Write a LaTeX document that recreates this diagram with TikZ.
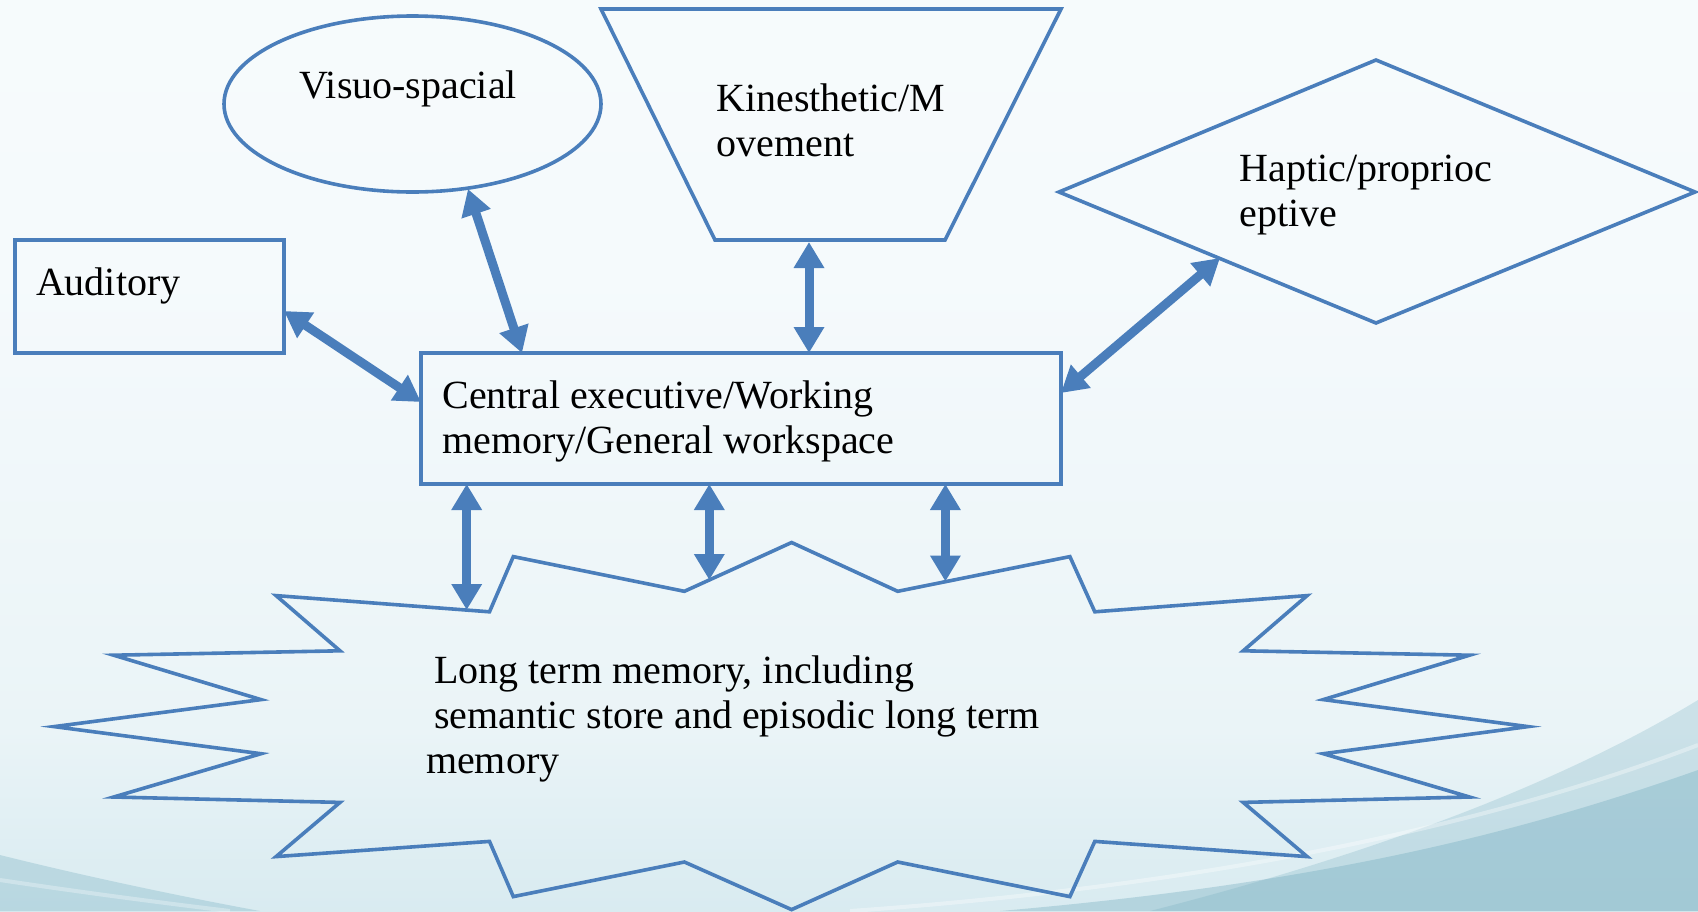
\documentclass[tikz,border=0pt]{standalone}
\usepackage{fontspec}
\setmainfont{Liberation Serif}
\usetikzlibrary{arrows.meta,calc,shapes.geometric}
\definecolor{shp}{HTML}{4A7EBB}
\definecolor{bg0}{HTML}{98C4D1}
\definecolor{bg1}{HTML}{B6D8E1}
\definecolor{bg2}{HTML}{D5E9EF}
\definecolor{bg3}{HTML}{EAF4F7}
\definecolor{bg4}{HTML}{F5FAFC}
\definecolor{bg5}{HTML}{F8FCFD}
\definecolor{swoosh}{HTML}{6FAABD}
\pgfdeclareverticalshading{bgshade}{100bp}{color(0bp)=(bg0); color(12bp)=(bg1); color(23bp)=(bg2); color(35bp)=(bg3); color(60bp)=(bg4); color(100bp)=(bg5)}
\begin{document}
\begin{tikzpicture}[x=0.5pt,y=-0.5pt,
  shapeline/.style={draw=shp, line width=1.8pt, line join=miter},
  lbl/.style={anchor=north west, inner sep=0pt, align=left, font=\fontsize{20}{22.5}\selectfont, text=black},
  dblarrow/.style={draw=shp, line width=4.5pt, {Triangle[width=14.5pt,length=13pt]}-{Triangle[width=14.5pt,length=13pt]}},
]
\useasboundingbox (0,0) rectangle (1698,911);
% background
\fill[shading=bgshade] (0,0) rectangle (1698,911);
\begin{scope}
  \clip (0,0) rectangle (1698,911);
  \fill[swoosh, opacity=0.35] (1698,770) .. controls (1500,840) and (1300,885) .. (1000,911) -- (1698,911) -- cycle;
  \fill[swoosh, opacity=0.25] (1698,700) .. controls (1550,790) and (1350,860) .. (1150,911) -- (1698,911) -- cycle;
  \draw[white, opacity=0.35, line width=2pt] (1698,745) .. controls (1450,840) and (1150,890) .. (850,911);
  \fill[swoosh, opacity=0.3] (0,855) .. controls (100,880) and (200,900) .. (260,911) -- (0,911) -- cycle;
  \draw[white, opacity=0.3, line width=2pt] (0,880) .. controls (100,895) and (180,905) .. (230,911);
\end{scope}

% shapes
\node[shapeline, ellipse, minimum width=188.5pt, minimum height=88pt, inner sep=0pt] (visuo) at (412.5,104) {};
\draw[shapeline] (601,9) -- (1061,9) -- (945,240) -- (715,240) -- cycle;
\draw[shapeline] (1059,192) -- (1376,60) -- (1695,192) -- (1376,323) -- cycle;
\node[shapeline, rectangle, minimum width=134.5pt, minimum height=56.5pt, inner sep=0pt] (auditory) at (149.5,296.5) {};
\node[shapeline, rectangle, minimum width=320pt, minimum height=65.5pt, inner sep=0pt] (central) at (741,418.5) {};
\draw[shapeline] (791.6,542.5) -- (897.7,591.3) -- (1069.9,556.6) -- (1094.8,611.8) -- (1307.1,595.6)
  -- (1243.2,650.8) -- (1469.5,655.2) -- (1323.3,699.6) -- (1528.0,726.6) -- (1323.3,753.7)
  -- (1469.5,797.0) -- (1243.2,802.4) -- (1307.1,856.6) -- (1094.8,841.4) -- (1069.9,896.6)
  -- (897.7,862.0) -- (791.6,909.6) -- (684.4,862.0) -- (513.3,896.6) -- (489.5,841.4)
  -- (276.1,856.6) -- (340.0,802.4) -- (113.7,797.0) -- (261.0,753.7) -- (54.1,726.6)
  -- (261.0,699.6) -- (113.7,655.2) -- (340.0,650.8) -- (276.1,595.6) -- (489.5,611.8)
  -- (513.3,556.6) -- (684.4,591.3) -- cycle;

% labels
\node[lbl] (visuotext) at (299,66.6) {\strut Visuo-spacial};
\node[lbl] (kintext) at (716,79.6) {\strut Kinesthetic/M\\ovement};
\node[lbl] (haptext) at (1239,150) {\strut Haptic/proprioc\\eptive};
\node[lbl] (audtext) at (35.7,263.8) {\strut Auditory};
\node[lbl] (centext) at (442,377) {\strut Central executive/Working\\memory/General workspace};
\node[lbl] (ltmtext) at (425.6,652) {\strut\hspace*{4.2pt}Long term memory, including\\\hspace*{4.2pt}semantic store and episodic long term\\memory};

% connector end points
\coordinate (audE) at (284,311);
\coordinate (cenW) at (421,402);
\coordinate (visS) at (468,189);
\coordinate (cenN1) at (522,353);
\coordinate (kinS) at (809,242);
\coordinate (cenN2) at (809,353);
\coordinate (hapSW) at (1220,258);
\coordinate (cenE) at (1061,393);
\coordinate (cenS1) at (466.7,484);
\coordinate (ltm1) at (466.7,610);
\coordinate (cenS2) at (709.3,484);
\coordinate (ltm2) at (709.3,580);
\coordinate (cenS3) at (945.4,484);
\coordinate (ltm3) at (945.4,581.5);

% connectors
\draw[dblarrow] (audE) -- (cenW);
\draw[dblarrow] (visS) -- (cenN1);
\draw[dblarrow] (kinS) -- (cenN2);
\draw[dblarrow] (hapSW) -- (cenE);
\draw[dblarrow] (cenS1) -- (ltm1);
\draw[dblarrow] (cenS2) -- (ltm2);
\draw[dblarrow] (cenS3) -- (ltm3);
\end{tikzpicture}
\end{document}
